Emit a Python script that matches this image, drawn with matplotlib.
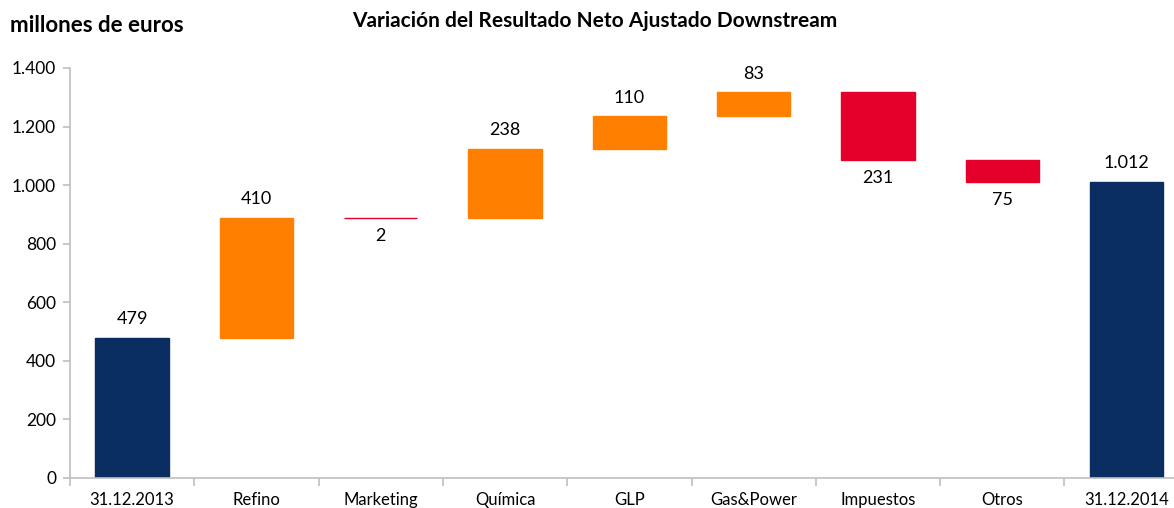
import matplotlib.pyplot as plt
import numpy as np

# datos del grafico (millones de euros)
categorias = ['31.12.2013', 'Refino', 'Marketing', 'Química', 'GLP',
              'Gas&Power', 'Impuestos', 'Otros', '31.12.2014']
variaciones = [479, 410, -2, 238, 110, 83, -231, -75, 1012]
etiquetas = ['479', '410', '2', '238', '110', '83', '231', '75', '1.012']
ticks_y = [0, 200, 400, 600, 800, 1000, 1200, 1400]
ticks_y_txt = ['0', '200', '400', '600', '800', '1.000', '1.200', '1.400']

azul = '#0A2D62'
naranja = '#FF8000'
rojo = '#E4002B'

plt.rcParams['font.family'] = ['Lato', 'DejaVu Sans']

fig = plt.figure(figsize=(11.74, 5.08), dpi=100)
ax = fig.add_axes([70 / 1174, 30 / 508, 9 * 124.3 / 1174, 410 / 508])

x = np.arange(len(categorias))
acumulado = 0
for i, v in enumerate(variaciones):
    if i == 0 or i == len(variaciones) - 1:
        base, alto, color = 0, v, azul
        acumulado = v
    else:
        base = acumulado if v >= 0 else acumulado + v
        alto = abs(v)
        color = naranja if v >= 0 else rojo
        acumulado += v
    # borde del mismo color para que la barra de 2 se vea como linea
    ax.bar(x[i], alto, bottom=base, width=0.59, color=color,
           edgecolor=color, linewidth=1.0)
    if v >= 0 or i == 0 or i == len(variaciones) - 1:
        ax.text(x[i], base + alto + 35, etiquetas[i], ha='center', va='bottom',
                fontsize=13, color='black')
    else:
        ax.text(x[i], base - 35, etiquetas[i], ha='center', va='top',
                fontsize=13, color='black')

ax.set_xlim(-0.5, len(categorias) - 0.5)
ax.set_ylim(0, 1400)
ax.set_yticks(ticks_y)
ax.set_yticklabels(ticks_y_txt, fontsize=12.5)
ax.set_xticks(x)
ax.set_xticklabels(categorias, fontsize=12)
ax.set_xticks(np.arange(-0.5, len(categorias), 1), minor=True)
ax.tick_params(axis='x', which='major', length=0, pad=10)
ax.tick_params(axis='x', which='minor', length=6, color='#BFBFBF', width=1.2)
ax.tick_params(axis='y', length=5, color='#BFBFBF', width=1.2, pad=5)

for s in ['top', 'right']:
    ax.spines[s].set_visible(False)
for s in ['left', 'bottom']:
    ax.spines[s].set_color('#BFBFBF')
    ax.spines[s].set_linewidth(1.2)

fig.text(595 / 1174, 1 - 21 / 508, 'Variación del Resultado Neto Ajustado Downstream',
         ha='center', va='center', fontsize=15, fontweight='bold')
fig.text(10 / 1174, 1 - 25 / 508, 'millones de euros', ha='left', va='center',
         fontsize=16, fontweight='bold')

fig.savefig('out.png', dpi=100)
